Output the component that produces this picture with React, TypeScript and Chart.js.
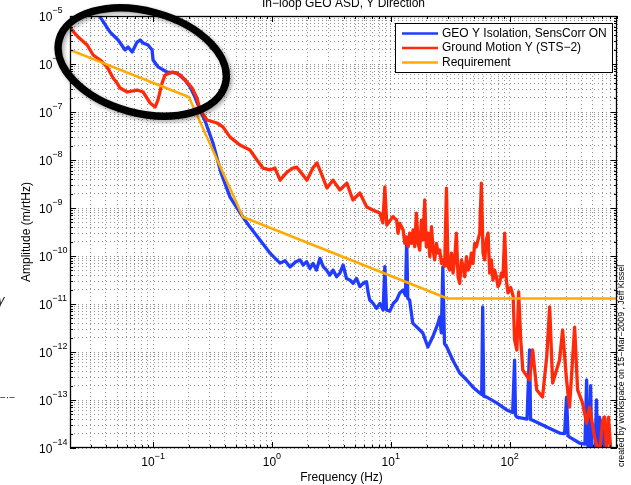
import React, { useEffect, useRef } from "react";
import { Chart, registerables } from "chart.js";

Chart.register(...registerables);

// ---------- text ----------
const TITLE = "In\u2212loop GEO ASD, Y Direction";
const X_TITLE = "Frequency (Hz)";
const Y_TITLE = "Amplitude (m/rtHz)";
const SIDE_NOTE = "created by workspace on 15\u2212Mar\u22122009 , Jeff Kissel";
const SERIES_LABELS = ["GEO Y Isolation, SensCorr ON", "Ground Motion Y (STS\u22122)", "Requirement"];
const SERIES_COLORS = ["#1f3cff", "#ff2a0a", "#ffaa00"];

// ---------- axes ----------
const X_MIN = 0.02;
const X_MAX = 800;
const Y_MIN = 1e-14;
const Y_MAX = 1e-5;
const X_LABEL_EXPONENTS = [-1, 0, 1, 2];
const Y_LABEL_EXPONENTS = [-14, -13, -12, -11, -10, -9, -8, -7, -6, -5];

// ---------- data: GEO Y Isolation, SensCorr ON ----------
const blueFreq = [0.0296, 0.0359, 0.0435, 0.0508, 0.0582, 0.0616, 0.0667, 0.0734, 0.0778, 0.0824, 0.0907, 0.0981, 0.1, 0.11, 0.131, 0.159, 0.186, 0.205, 0.225, 0.248, 0.274, 0.319, 0.373, 0.444, 0.57, 0.653, 0.793, 0.962, 1.17, 1.29, 1.42, 1.58, 1.72, 1.83, 1.96, 2.09, 2.22, 2.37, 2.53, 2.7, 2.88, 3.07, 3.27, 3.5, 3.73, 3.97, 4.24, 4.52, 4.82, 5.15, 5.49, 5.85, 6.25, 6.45, 6.66, 7.1, 7.58, 8.09, 8.62, 8.91, 9.2, 9.81, 10.5, 11.2, 11.9, 12.7, 13.3, 13.6, 13.9, 14.4, 15.3, 18.6, 20.5, 22.5, 25.0, 25.8, 26.6, 27.4, 28.3, 29.6, 33.2, 38, 43.5, 48.9, 56, 58.2, 59.3, 60.5, 64.1, 77.8, 94.4, 106, 110, 112, 115, 140, 147, 150, 156, 205, 263, 290, 301, 310, 319, 387, 430, 444, 455, 470, 480, 490, 520, 538, 550, 570, 590, 628, 640, 700];
const blueAmp = [2.0e-5, 9.5e-6, 4.6e-6, 3.16e-6, 1.96e-6, 2.26e-6, 1.78e-6, 2.87e-6, 3.16e-6, 2.74e-6, 2.49e-6, 1.96e-6, 1.21e-6, 8.7e-7, 6.8e-7, 6.5e-7, 4.6e-7, 3.3e-7, 2.05e-7, 1.1e-7, 6.5e-8, 2.26e-8, 5.4e-9, 1.69e-9, 6.5e-10, 4.0e-10, 2.16e-10, 1.15e-10, 7.1e-11, 8.0e-11, 5.9e-11, 7.5e-11, 8.3e-11, 6.5e-11, 7.6e-11, 5.5e-11, 7.0e-11, 5.1e-11, 8.9e-11, 6.0e-11, 5.1e-11, 4.0e-11, 5.1e-11, 3.7e-11, 4.4e-11, 6.5e-11, 3.4e-11, 3.16e-11, 2.7e-11, 3.4e-11, 2.3e-11, 2.7e-11, 2.9e-11, 1.7e-11, 1.21e-11, 1.03e-11, 8.1e-12, 1.03e-11, 7.5e-12, 6.0e-11, 7.5e-12, 7.1e-12, 1.03e-11, 1.21e-11, 1.7e-11, 1.96e-11, 1.5e-11, 2.16e-10, 1.3e-11, 1.21e-11, 4.0e-12, 2.49e-12, 1.27e-12, 2.05e-12, 4.0e-12, 5.4e-12, 2.5e-12, 5.9e-11, 1.5e-12, 1.27e-12, 6.8e-13, 3.65e-13, 2.61e-13, 1.87e-13, 1.4e-13, 1.3e-13, 8.7e-12, 1.2e-13, 1.15e-13, 8.7e-14, 6.2e-14, 5.5e-14, 6.8e-13, 4.8e-14, 4.4e-14, 4.0e-14, 1.1e-12, 3.9e-14, 3.8e-14, 2.74e-14, 2.05e-14, 2.0e-14, 1.15e-13, 1.8e-14, 1.69e-14, 1.27e-14, 1.2e-14, 2.61e-13, 1.1e-14, 1.05e-14, 2.0e-13, 8e-15, 6e-15, 1.0e-13, 6e-15, 4.4e-14, 5e-15, 4.4e-14, 4e-15, 3e-15];

// ---------- data: Ground Motion Y (STS-2) ----------
const redFreq = [0.0201, 0.0234, 0.0279, 0.0313, 0.0359, 0.041, 0.0461, 0.0498, 0.0528, 0.0605, 0.0734, 0.0824, 0.0944, 0.104, 0.11, 0.119, 0.126, 0.147, 0.169, 0.193, 0.213, 0.234, 0.248, 0.284, 0.345, 0.387, 0.444, 0.538, 0.653, 0.748, 0.84, 0.962, 1.06, 1.17, 1.34, 1.5, 1.62, 1.82, 1.97, 2.21, 2.39, 2.63, 2.9, 3.26, 3.73, 4.27, 4.8, 5.49, 6.28, 7.06, 8.09, 8.57, 8.91, 9.26, 10.4, 11.2, 11.5, 11.9, 12.7, 13.1, 13.5, 14.0, 14.4, 14.9, 15.4, 15.9, 16.4, 17.0, 17.5, 18.1, 18.7, 19.3, 19.9, 20.6, 21.3, 22.0, 22.7, 23.4, 24.2, 25.0, 25.8, 26.7, 27.5, 28.4, 29.4, 30.3, 31.3, 32.4, 33.4, 34.5, 35.6, 36.8, 38.0, 39.3, 40.5, 41.9, 43.3, 44.7, 46.1, 47.6, 49.2, 50.8, 52.5, 54.2, 56.0, 57.8, 59.7, 61.6, 63.7, 65.8, 67.9, 70.2, 72.4, 74.8, 77.3, 79.8, 82.4, 85.1, 87.9, 90.8, 93.8, 96.8, 102, 107, 110, 115, 119, 124, 129, 147, 156, 169, 189, 205, 217, 230, 263, 279, 301, 319, 352, 373, 410, 444, 470, 518, 570, 605, 628, 653, 679, 720];
const redAmp = [5.6e-6, 3.65e-6, 2.49e-6, 1.54e-6, 1.21e-6, 8.7e-7, 5.1e-7, 4.0e-7, 3.16e-7, 2.61e-7, 2.87e-7, 2.61e-7, 1.54e-7, 1.27e-7, 1.78e-7, 4.0e-7, 5.9e-7, 6.8e-7, 5.9e-7, 4.2e-7, 3.16e-7, 1.96e-7, 1.1e-7, 6.8e-8, 5.9e-8, 4.9e-8, 3.0e-8, 2.05e-8, 1.61e-8, 1.0e-8, 6.8e-9, 6.2e-9, 6.8e-9, 3.8e-9, 5.6e-9, 6.8e-9, 7.1e-9, 4.9e-9, 3.8e-9, 6.8e-9, 8.7e-9, 4.9e-9, 2.61e-9, 3.8e-9, 2.37e-9, 3.3e-9, 1.47e-9, 2.05e-9, 1.05e-9, 9.1e-10, 7.9e-10, 4.9e-10, 2.74e-9, 4.4e-10, 6.6e-10, 5.6e-10, 2.95e-10, 4.8e-10, 3.5e-10, 1.84e-10, 2.5e-10, 1.56e-10, 3.0e-10, 1.84e-10, 3.5e-10, 1.56e-10, 7.8e-10, 1.84e-10, 1.33e-10, 5.6e-10, 2.16e-10, 1.47e-9, 1.56e-10, 3.0e-10, 9.7e-11, 4.1e-10, 1.33e-10, 8.3e-11, 1.84e-10, 1.15e-10, 1.33e-10, 7.0e-11, 8.3e-11, 6.1e-11, 2.6e-9, 6.1e-11, 5.1e-11, 1.15e-10, 4.4e-11, 8.3e-11, 3.0e-10, 3.7e-11, 2.7e-11, 8.3e-11, 6.1e-11, 3.7e-11, 9.7e-11, 5.1e-11, 6.1e-11, 1.15e-10, 7.0e-11, 1.84e-10, 1.56e-10, 2.16e-10, 3.0e-10, 3.3e-9, 1.15e-10, 8.3e-11, 2.16e-10, 3.0e-10, 4.4e-11, 8.3e-11, 3.16e-11, 5.1e-11, 3.7e-11, 2.3e-11, 2.7e-11, 4.4e-11, 3.7e-11, 3.0e-10, 3.16e-11, 1.7e-11, 2.2e-11, 1.45e-11, 1.78e-12, 1.1e-12, 1.78e-11, 1.78e-12, 4.2e-13, 2.61e-13, 1.1e-12, 1.62e-13, 1.15e-13, 7.9e-13, 8.7e-12, 2.26e-13, 6.8e-13, 2.87e-12, 2.61e-13, 7.1e-14, 3.3e-12, 1.62e-13, 8.7e-14, 3.3e-14, 7.1e-14, 1.69e-14, 7.1e-15, 3.8e-14, 4.4e-14, 9e-15, 4.4e-14, 5e-15];

// ---------- data: Requirement ----------
const reqFreq = [0.02, 0.2, 0.57, 30, 800];
const reqAmp = [1.96e-6, 2.05e-7, 6.5e-10, 1.3e-11, 1.3e-11];

// ---------- hand-drawn ellipse annotation (centre in data units) ----------
const ELLIPSE_FREQ = 0.081;
const ELLIPSE_AMP = 1.1e-6;

const FONT = '"Liberation Sans", Arial, Helvetica, sans-serif';

function logGrid(min: number, max: number): number[] {
  const out: number[] = [];
  const e0 = Math.floor(Math.log10(min));
  const e1 = Math.ceil(Math.log10(max));
  for (let e = e0; e <= e1; e++) {
    for (let m = 1; m <= 9; m++) {
      const v = Number((m * Math.pow(10, e)).toPrecision(6));
      if (v >= min * 0.999 && v <= max * 1.001) out.push(v);
    }
  }
  return out;
}
const X_GRID = logGrid(X_MIN, X_MAX);
const Y_GRID = logGrid(Y_MIN, Y_MAX);
const isDecade = (v: number) => Math.abs(Math.log10(v) - Math.round(Math.log10(v))) < 1e-6;
const expText = (e: number) => (e < 0 ? "\u2212" + Math.abs(e) : String(e));

const toPoints = (fx: number[], fy: number[]) => fx.map((f, i) => ({ x: f, y: fy[i] }));

const matlabPlugin = {
  id: "matlabDecor",
  afterDraw(chart: any) {
    const { ctx, chartArea: a, scales } = chart;
    const xs = scales.x;
    const ys = scales.y;
    ctx.save();

    // inward tick marks on all four sides
    ctx.strokeStyle = "#000";
    ctx.lineWidth = 1;
    ctx.beginPath();
    X_GRID.forEach((v) => {
      const px = Math.round(xs.getPixelForValue(v)) + 0.5;
      const len = isDecade(v) ? 6 : 3;
      ctx.moveTo(px, a.bottom);
      ctx.lineTo(px, a.bottom - len);
      ctx.moveTo(px, a.top);
      ctx.lineTo(px, a.top + len);
    });
    Y_GRID.forEach((v) => {
      const py = Math.round(ys.getPixelForValue(v)) + 0.5;
      const len = isDecade(v) ? 6 : 3;
      ctx.moveTo(a.left, py);
      ctx.lineTo(a.left + len, py);
      ctx.moveTo(a.right, py);
      ctx.lineTo(a.right - len, py);
    });
    ctx.stroke();

    // frame
    ctx.lineWidth = 1.3;
    ctx.strokeRect(a.left + 0.5, a.top + 0.5, a.right - a.left - 1, a.bottom - a.top - 1);

    // tick labels 10^n
    ctx.fillStyle = "#000";
    ctx.textBaseline = "middle";
    ctx.textAlign = "left";
    Y_LABEL_EXPONENTS.forEach((e) => {
      const py = ys.getPixelForValue(Math.pow(10, e));
      const x0 = a.left - 31;
      ctx.font = `12px ${FONT}`;
      ctx.fillText("10", x0, py + 2);
      const w = ctx.measureText("10").width;
      ctx.font = `9px ${FONT}`;
      ctx.fillText(expText(e), x0 + w, py - 5);
    });
    X_LABEL_EXPONENTS.forEach((e) => {
      const px = xs.getPixelForValue(Math.pow(10, e));
      ctx.font = `12px ${FONT}`;
      const w10 = ctx.measureText("10").width;
      ctx.font = `9px ${FONT}`;
      const we = ctx.measureText(expText(e)).width;
      const x0 = px - (w10 + we) / 2;
      ctx.font = `12px ${FONT}`;
      ctx.fillText("10", x0, a.bottom + 15);
      ctx.font = `9px ${FONT}`;
      ctx.fillText(expText(e), x0 + w10, a.bottom + 9);
    });

    // titles
    const cxArea = (a.left + a.right) / 2;
    ctx.font = `12px ${FONT}`;
    ctx.textAlign = "center";
    ctx.textBaseline = "alphabetic";
    ctx.fillText(TITLE, cxArea, 7);
    ctx.textBaseline = "middle";
    ctx.fillText(X_TITLE, cxArea - 2, a.bottom + 30);
    ctx.save();
    ctx.translate(27, (a.top + a.bottom) / 2);
    ctx.rotate(-Math.PI / 2);
    ctx.fillText(Y_TITLE, 0, 0);
    ctx.restore();

    // side note
    ctx.save();
    ctx.font = `8.8px ${FONT}`;
    ctx.textAlign = "left";
    ctx.textBaseline = "middle";
    ctx.translate(a.right + 5, a.bottom + 19);
    ctx.rotate(-Math.PI / 2);
    ctx.fillText(SIDE_NOTE, 0, 0);
    ctx.restore();

    // legend box (inside axes, north-east)
    const ds = chart.data.datasets;
    ctx.font = `12px ${FONT}`;
    const maxW = Math.max(...ds.map((d: any) => ctx.measureText(d.label).width));
    const bw = Math.round(47 + maxW + 5);
    const bh = 49;
    const bx = Math.round(a.right - 5 - bw);
    const by = Math.round(a.top + 7);
    ctx.fillStyle = "#fff";
    ctx.fillRect(bx, by, bw, bh);
    ctx.strokeStyle = "#000";
    ctx.lineWidth = 1;
    ctx.strokeRect(bx + 0.5, by + 0.5, bw, bh);
    ds.forEach((d: any, i: number) => {
      const y = by + 10.5 + i * 14.5;
      ctx.strokeStyle = d.borderColor;
      ctx.lineWidth = 2.5;
      ctx.beginPath();
      ctx.moveTo(bx + 7, y);
      ctx.lineTo(bx + 43, y);
      ctx.stroke();
      ctx.fillStyle = "#000";
      ctx.textAlign = "left";
      ctx.textBaseline = "middle";
      ctx.fillText(d.label, bx + 47, y);
    });

    // hand-drawn marks outside the axes
    ctx.fillStyle = "#222";
    ctx.font = `italic 13px ${FONT}`;
    ctx.textAlign = "left";
    ctx.fillText("\u03b3", -2, ys.getPixelForValue(1.2e-11));
    ctx.font = `10px ${FONT}`;
    ctx.fillText("\u2212\u00b7\u2212", 0, ys.getPixelForValue(1.1e-13));

    // black ellipse annotation
    const ex = xs.getPixelForValue(ELLIPSE_FREQ);
    const ey = ys.getPixelForValue(ELLIPSE_AMP);
    ctx.save();
    ctx.shadowColor = "rgba(0,0,0,0.35)";
    ctx.shadowBlur = 4;
    ctx.shadowOffsetX = 2;
    ctx.shadowOffsetY = 2;
    ctx.strokeStyle = "#000";
    ctx.lineWidth = 7.5;
    ctx.beginPath();
    ctx.ellipse(ex, ey, 86, 51, (15 * Math.PI) / 180, 0, Math.PI * 2);
    ctx.stroke();
    ctx.restore();

    ctx.restore();
  },
};

export default function App() {
  const ref = useRef<HTMLCanvasElement>(null);
  useEffect(() => {
    const canvas = ref.current;
    if (!canvas) return;
    const lineDs = (i: number, fx: number[], fy: number[], width: number, order: number) => ({
      label: SERIES_LABELS[i],
      data: toPoints(fx, fy),
      borderColor: SERIES_COLORS[i],
      backgroundColor: SERIES_COLORS[i],
      borderWidth: width,
      borderJoinStyle: "round" as const,
      borderCapStyle: "round" as const,
      pointRadius: 0,
      tension: 0,
      fill: false,
      clip: 0,
      order,
    });
    const gridCommon = {
      color: "rgba(0,0,0,0.42)",
      lineWidth: 1,
      drawTicks: false,
      tickLength: 0,
    };
    const chart = new Chart(canvas, {
      type: "line",
      data: {
        datasets: [
          lineDs(0, blueFreq, blueAmp, 3.3, 3),
          lineDs(1, redFreq, redAmp, 3.3, 2),
          lineDs(2, reqFreq, reqAmp, 2.5, 1),
        ],
      },
      options: {
        responsive: false,
        animation: false,
        devicePixelRatio: 1,
        events: [],
        layout: { padding: { top: 16, right: 14, left: 0, bottom: 0 } },
        plugins: {
          legend: { display: false },
          title: { display: false },
          tooltip: { enabled: false },
        },
        scales: {
          x: {
            type: "logarithmic",
            min: X_MIN,
            max: X_MAX,
            position: "bottom",
            ticks: { display: false, autoSkip: false },
            grid: gridCommon,
            border: { display: false, dash: [1, 3] },
            afterBuildTicks: (s: any) => {
              s.ticks = X_GRID.map((v) => ({ value: v, major: isDecade(v) }));
            },
            afterFit: (s: any) => {
              s.height = 37;
            },
          },
          y: {
            type: "logarithmic",
            min: Y_MIN,
            max: Y_MAX,
            position: "left",
            ticks: { display: false, autoSkip: false },
            grid: gridCommon,
            border: { display: false, dash: [1, 3] },
            afterBuildTicks: (s: any) => {
              s.ticks = Y_GRID.map((v) => ({ value: v, major: isDecade(v) }));
            },
            afterFit: (s: any) => {
              s.width = 70;
            },
          },
        },
      } as any,
      plugins: [matlabPlugin],
    });
    return () => chart.destroy();
  }, []);
  return (
    <div style={{ position: "fixed", left: 0, top: 0, width: 631, height: 485, background: "#fff" }}>
      <canvas ref={ref} width={631} height={485} style={{ width: 631, height: 485, display: "block" }} />
    </div>
  );
}
